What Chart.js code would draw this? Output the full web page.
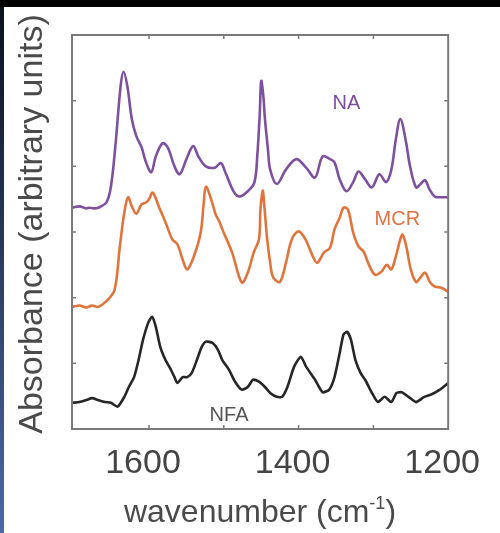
<!DOCTYPE html>
<html>
<head>
<meta charset="utf-8">
<script src="https://cdn.jsdelivr.net/npm/chart.js@4"></script>
<style>
html,body{margin:0;padding:0;background:#fff;}
canvas{display:block;}
</style>
</head>
<body>
<canvas id="chart" width="500" height="533"></canvas>
<script>
// wavenumber (cm-1) / absorbance (offset, arbitrary units)
const naWn=[1702,1693,1684,1680,1674,1668,1657,1651,1645,1638,1634,1629,1623,1617,1610,1604,1597,1591,1582,1575,1566,1559,1550,1541,1534,1524,1512,1504,1498,1487,1479,1468,1459,1455,1452,1450,1447,1445,1441,1438,1429,1417,1403,1390,1378,1368,1358,1352,1345,1336,1327,1320,1311,1302,1292,1283,1276,1270,1264,1257,1251,1243,1237,1231,1225,1218,1209,1200]
const naAbs=[3.37,3.39,3.36,3.37,3.36,3.37,3.45,3.69,4.31,5.22,5.44,5.22,4.72,4.46,4.29,4.06,3.91,4.15,4.35,4.29,4.00,3.88,4.11,4.31,4.15,4.00,3.98,4.05,3.91,3.62,3.54,3.62,3.76,4.21,4.79,5.30,5.05,4.72,4.26,3.95,3.73,3.95,4.11,3.98,3.83,4.15,4.11,4.06,3.80,3.62,3.76,3.92,3.80,3.68,3.88,3.76,3.95,4.41,4.72,4.41,4.00,3.68,3.73,3.79,3.65,3.54,3.53,3.53]

const mcrWn=[1702,1693,1684,1676,1668,1655,1646,1639,1633,1628,1623,1617,1610,1604,1600,1595,1587,1578,1569,1562,1555,1549,1540,1531,1527,1524,1517,1511,1506,1502,1489,1476,1468,1460,1453,1451,1448,1446,1442,1438,1434,1425,1417,1409,1400,1391,1381,1375,1366,1358,1352,1345,1340,1334,1327,1320,1313,1307,1298,1289,1282,1276,1270,1264,1261,1256,1250,1243,1237,1231,1224,1218,1209,1200]
const mcrAbs=[1.86,1.88,1.85,1.88,1.86,1.97,2.12,2.78,3.30,3.53,3.39,3.28,3.42,3.45,3.50,3.60,3.39,3.15,2.89,2.81,2.58,2.43,2.63,2.99,3.42,3.69,3.50,3.27,3.16,3.04,2.69,2.23,2.38,2.69,2.89,3.34,3.63,3.42,2.89,2.53,2.31,2.24,2.53,2.89,3.01,2.89,2.63,2.53,2.69,2.76,3.04,3.22,3.37,3.34,2.99,2.78,2.70,2.53,2.35,2.40,2.50,2.43,2.63,2.89,2.96,2.78,2.43,2.24,2.31,2.38,2.23,2.17,2.15,2.09]

const nfaWn=[1702,1693,1684,1676,1668,1659,1651,1642,1633,1627,1620,1614,1608,1601,1596,1591,1585,1578,1572,1566,1562,1555,1549,1543,1536,1530,1524,1515,1508,1502,1493,1485,1476,1468,1461,1453,1445,1438,1429,1422,1415,1406,1397,1390,1378,1368,1359,1352,1345,1340,1335,1330,1324,1317,1311,1302,1294,1285,1276,1269,1262,1253,1243,1232,1222,1211,1200]
const nfaAbs=[0.40,0.41,0.44,0.47,0.44,0.41,0.40,0.34,0.49,0.64,0.79,1.05,1.36,1.62,1.71,1.56,1.25,1.05,0.93,0.79,0.70,0.79,0.79,0.85,1.05,1.24,1.33,1.31,1.21,1.05,0.90,0.72,0.60,0.64,0.75,0.72,0.64,0.55,0.49,0.49,0.64,0.95,1.10,0.95,0.75,0.56,0.60,0.79,1.16,1.44,1.48,1.36,1.05,0.85,0.75,0.55,0.41,0.49,0.41,0.55,0.56,0.49,0.41,0.49,0.53,0.60,0.70]

const xTicks=[1600,1500,1400,1300]
const xLabels=[1600,1400,1200]
const yTicks=[1,2,3,4,5]

const seriesNames=['NA','MCR','NFA']
const seriesColors=['#7d50a0','#e0743c','#262626']
const nameColors=['#7a4d9a','#e07244','#555555']
const nameWn=[1336,1268,1493]
const nameAbs=[4.95,3.19,0.21]

const FONT='"Liberation Sans", Arial, Helvetica, sans-serif'

function pts(w,a){return w.map((v,i)=>({x:v,y:a[i]}))}

const bg={
id:'bg',
beforeDraw(c){
const ctx=c.ctx
ctx.save()
ctx.fillStyle='#fff'
ctx.fillRect(0,0,c.width,c.height)
const g=ctx.createLinearGradient(0,0,0,c.height)
g.addColorStop(0,'#0a0f1c')
g.addColorStop(1,'#4a6aa8')
ctx.fillStyle=g
ctx.fillRect(0,0,4,c.height)
ctx.fillStyle='#000'
ctx.fillRect(0,0,c.width,7)
ctx.restore()
}
}

const frame={
id:'frame',
afterDraw(c){
const ctx=c.ctx,a=c.chartArea,x=c.scales.x,y=c.scales.y
ctx.save()
ctx.strokeStyle='#7a7a7a'
ctx.lineWidth=1.5
ctx.beginPath()
xTicks.forEach(v=>{
const p=x.getPixelForValue(v)
ctx.moveTo(p,a.bottom);ctx.lineTo(p,a.bottom-4)
ctx.moveTo(p,a.top);ctx.lineTo(p,a.top+4)
})
yTicks.forEach(v=>{
const p=y.getPixelForValue(v)
ctx.moveTo(a.left,p);ctx.lineTo(a.left+4,p)
ctx.moveTo(a.right,p);ctx.lineTo(a.right-4,p)
})
ctx.stroke()
ctx.lineWidth=2
ctx.strokeRect(a.left,a.top,a.right-a.left,a.bottom-a.top)

// series names
ctx.font='20px '+FONT
ctx.textAlign='center'
ctx.textBaseline='middle'
seriesNames.forEach((n,i)=>{
ctx.fillStyle=nameColors[i]
ctx.fillText(n,x.getPixelForValue(nameWn[i]),y.getPixelForValue(nameAbs[i]))
})

// y title
ctx.fillStyle='#4a4a4a'
ctx.save()
ctx.translate(33,224)
ctx.rotate(-Math.PI/2)
ctx.font='34px '+FONT
ctx.fillText('Absorbance (arbitrary units)',0,0)
ctx.restore()

// x title with superscript
ctx.font='32px '+FONT
const t1='wavenumber (cm',t2='-1',t3=')'
const w1=ctx.measureText(t1).width,w3=ctx.measureText(t3).width
ctx.font='18px '+FONT
const w2=ctx.measureText(t2).width
let sx=260-(w1+w2+w3)/2
ctx.textAlign='left'
ctx.textBaseline='alphabetic'
ctx.font='32px '+FONT
ctx.fillText(t1,sx,522)
ctx.font='18px '+FONT
ctx.fillText(t2,sx+w1,509)
ctx.font='32px '+FONT
ctx.fillText(t3,sx+w1+w2,522)
ctx.restore()
}
}

new Chart(document.getElementById('chart'),{
type:'line',
data:{
datasets:[
{label:'NA',data:pts(naWn,naAbs),borderColor:seriesColors[0],borderWidth:2.6,pointRadius:0,tension:0.35,fill:false},
{label:'MCR',data:pts(mcrWn,mcrAbs),borderColor:seriesColors[1],borderWidth:2.6,pointRadius:0,tension:0.35,fill:false},
{label:'NFA',data:pts(nfaWn,nfaAbs),borderColor:seriesColors[2],borderWidth:2.6,pointRadius:0,tension:0.2,fill:false}
]
},
options:{
responsive:false,
animation:false,
events:[],
layout:{padding:{top:35,right:32,left:0,bottom:0}},
plugins:{legend:{display:false},tooltip:{enabled:false}},
scales:{
x:{
type:'linear',
reverse:true,
min:1200,
max:1703,
afterBuildTicks:s=>{s.ticks=[1700,1600,1500,1400,1300,1200].map(v=>({value:v}))},
afterFit:s=>{s.height=104},
grid:{display:false,drawTicks:false},
border:{display:false},
ticks:{
autoSkip:false,
maxRotation:0,
padding:14,
labelOffset:-6,
color:'#444',
font:{family:FONT,size:34},
callback:v=>xLabels.includes(v)?String(v):''
}
},
y:{
min:0,
max:6,
afterFit:s=>{s.width=72},
grid:{display:false,drawTicks:false},
border:{display:false},
ticks:{display:false}
}
}
},
plugins:[bg,frame]
})
</script>
</body>
</html>
